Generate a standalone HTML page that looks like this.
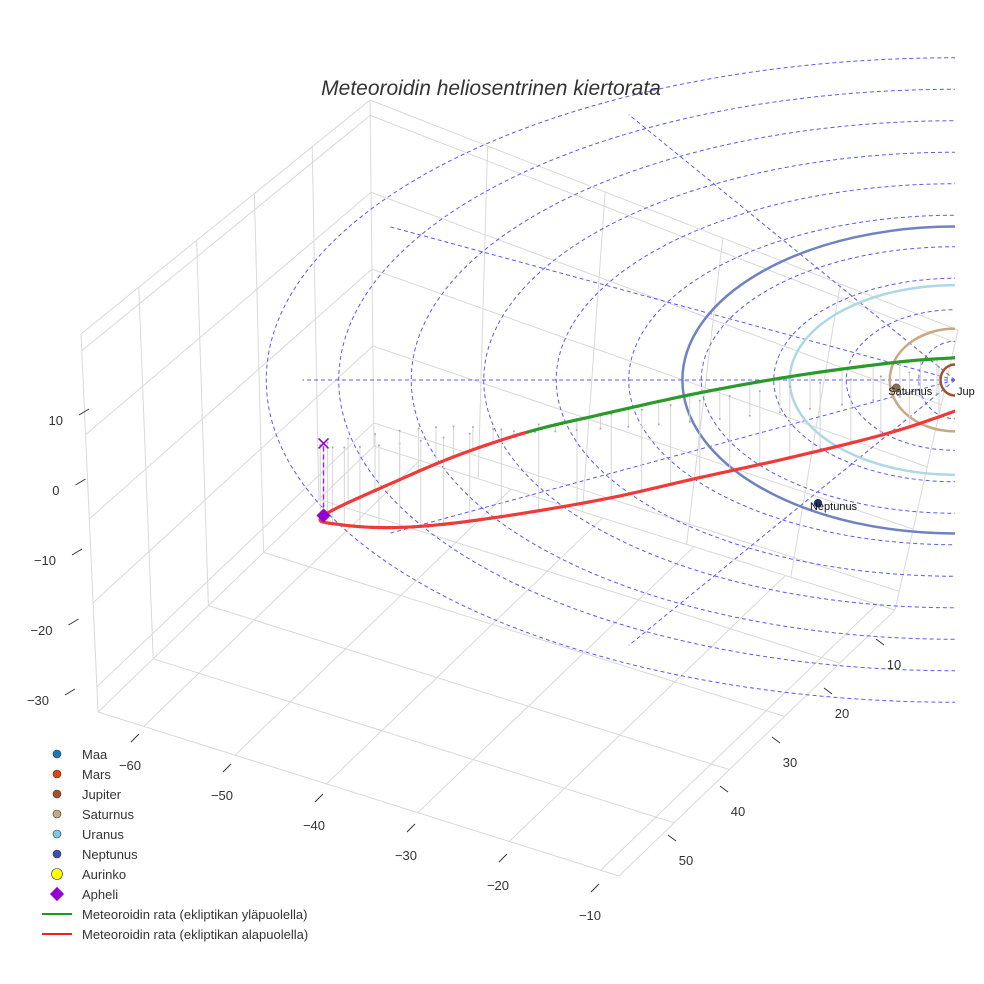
<!DOCTYPE html>
<html><head><meta charset="utf-8"><title>Meteoroidin heliosentrinen kiertorata</title>
<style>
body{margin:0;background:#fff;}
svg{display:block;font-family:"Liberation Sans",sans-serif;}
</style></head>
<body>
<svg id="chart" width="984" height="984" viewBox="0 0 984 984">
<defs><clipPath id="clipR"><rect x="0" y="0" width="955" height="984"/></clipPath></defs>
<g id="box" stroke="#d9d9d9" stroke-width="1" fill="none"></g>
<g id="grid" clip-path="url(#clipR)"></g>
<g id="orbits" clip-path="url(#clipR)"></g>
<g id="drops"></g>
<g id="traj" clip-path="url(#clipR)"></g>
<g id="marks"></g>
<g id="ticks" font-size="13" fill="#333"></g>
<text x="491" y="95" text-anchor="middle" font-size="21" font-style="italic" fill="#333">Meteoroidin heliosentrinen kiertorata</text>
<g id="legend" font-size="13" fill="#333"></g>
</svg>
<script>
// ---- data ----
const orbitX = [4.1,-7.6,-21.4,-35.2,-48.9,-65.6,-76.6,-84.8,-87.1,-76.6,-68.3,-58.9,-48.9,-35.2,-21.4,-7.6,0,4.1];
const orbitY = [-5.3,-1.5,1.3,5.0,8.7,12.7,15.4,16.4,15.4,12.3,11.3,12.6,11.8,9.9,7.3,4.1,3.1,2.6];
const orbitZ = [-6,-8,-10,-11,-12,-12.5,-12,-11,-10.3,-7,-4,0,2,4,5,5,5,5];
const planetNames = ["Jupiter","Saturnus","Uranus","Neptunus"];
const planetRadii = [2,9,22.8,37.6];
const planetColors = ["#a0522d","#c8a882","#add8e6","#6f82c2"];
const planetPosX = [null,-8.1,null,-18.9];
const planetPosY = [null,1.9,null,29.9];
const gridRadii = [5,15,25,35,45,55,65,75,85,95];
const radialAngles = [120,150,180,210,240];
const aphelion = [-87.1,15.4,-10.3];
const xTicks = [-60,-50,-40,-30,-20,-10];
const yTicks = [10,20,30,40,50];
const zTicks = [10,0,-10,-20,-30];

// ---- axis functions ----
const SX=7.25, SY=4.12, SZ=7;
const P = (x,y,z)=>[955+SX*x, 380+SY*y-SZ*z];
const ryOf = r=>r<=0?0:3.15*r+(r>=5?23:23*r/5);   // foreshortened ecliptic depth
const xTickPos = v=>[135+(v+60)*9.2, 738+(v+60)*3.0];
const yTickPos = v=>[880-(v-10)*5.2, 642+(v-10)*4.9];
const zTickPos = v=>[83-(10-v)*0.35, 412+(10-v)*7.0];
const NS="http://www.w3.org/2000/svg";
function mk(tag,attrs,parent){const e=document.createElementNS(NS,tag);for(const k in attrs)e.setAttribute(k,attrs[k]);parent.appendChild(e);return e;}

// box
const box=document.getElementById('box');
const lerp=(a,b,t)=>[a[0]+(b[0]-a[0])*t,a[1]+(b[1]-a[1])*t];
const FL=[98,712], FR=[619,876], BR=[895,610], BL=[374,446];
const TL=[81,334], TB=[370,100], TR=[958,330];
function L(a,b){mk('line',{x1:a[0],y1:a[1],x2:b[0],y2:b[1]},box);}
L(FL,FR);L(FR,BR);L(BR,BL);L(BL,FL);L(TL,FL);L(TL,TB);L(TB,BL);L(TB,TR);L(TR,BR);
for(let i=1;i<5;i++){const t=i/5;
  const a=lerp(FL,BL,t),b=lerp(FR,BR,t);L(a,b);
  const top=lerp(TL,TB,t);L(top,a);
  const c=lerp(BL,BR,t),d=lerp(TB,TR,t);L(c,d);
}
xTicks.forEach(v=>{const t=(v+65)/57;const a=lerp(FL,FR,t),b=lerp(BL,BR,t);L(a,b);});
zTicks.forEach(v=>{const t=(12-v)/45;const a=lerp(TL,FL,t),b=lerp(TB,BL,t),c=lerp(TR,BR,t);L(a,b);L(b,c);});

// grid
const grid=document.getElementById('grid');
gridRadii.forEach(r=>{const c=P(0,0,0);
 const e=mk('ellipse',{cx:c[0],cy:c[1],rx:SX*r,ry:ryOf(r),fill:'none',stroke:'#5b5bf0','stroke-width':1,'stroke-dasharray':'4,3'},grid);
 });
radialAngles.forEach(a=>{const t=a*Math.PI/180;const c=P(0,0,0);const R=90;const q=[c[0]+SX*R*Math.cos(t),c[1]+ryOf(R)*Math.sin(t)];
 const e=mk('line',{x1:c[0],y1:c[1],x2:q[0],y2:q[1],stroke:'#5b5bf0','stroke-width':1,'stroke-dasharray':'4,3'},grid);
 });

// planet orbits
const orb=document.getElementById('orbits');
planetRadii.forEach((r,i)=>{const c=P(0,0,0);
 const e=mk('ellipse',{cx:c[0],cy:c[1],rx:SX*r,ry:ryOf(r)+(r>30?12:0),fill:'none',stroke:planetColors[i],'stroke-width':2.5},orb);
 });

// trajectory (Catmull-Rom sampled)
const pts=orbitX.map((x,i)=>[x,orbitY[i],orbitZ[i]]);
function cr(p0,p1,p2,p3,t){return p1.map((_,k)=>0.5*((2*p1[k])+(-p0[k]+p2[k])*t+(2*p0[k]-5*p1[k]+4*p2[k]-p3[k])*t*t+(-p0[k]+3*p1[k]-3*p2[k]+p3[k])*t*t*t));}
const samp=[];
for(let i=0;i<pts.length-1;i++){const p0=pts[Math.max(0,i-1)],p1=pts[i],p2=pts[i+1],p3=pts[Math.min(pts.length-1,i+2)];
 for(let s=0;s<10;s++)samp.push(cr(p0,p1,p2,p3,s/10));}
samp.push(pts[pts.length-1]);
const drops=document.getElementById('drops');
samp.forEach((p,i)=>{if(i%3)return;const a=P(p[0],p[1],p[2]),b=P(p[0],p[1],0);if(a[0]>950)return;
 const e=mk('line',{x1:a[0],y1:a[1],x2:b[0],y2:b[1],stroke:'#d6d6d6','stroke-width':1},drops);
 
 const d=mk('circle',{cx:b[0],cy:b[1],r:1,fill:'#aaa'},drops);
 });
const traj=document.getElementById('traj');
for(let i=0;i<samp.length-1;i++){const a=P(...samp[i]),b=P(...samp[i+1]);
 const col=(samp[i][2]+samp[i+1][2])/2>=0?'#2a9a2a':'#f03a3a';
 const e=mk('line',{x1:a[0],y1:a[1],x2:b[0],y2:b[1],stroke:col,'stroke-width':3.2,'stroke-linecap':'round'},traj);
 }

// markers
const marks=document.getElementById('marks');
const ap=P(...aphelion),ap0=P(aphelion[0],aphelion[1],0);
let e=mk('line',{x1:ap[0],y1:ap[1],x2:ap0[0],y2:ap0[1],stroke:'#9932cc','stroke-width':1.5,'stroke-dasharray':'5,3'},marks);

e=mk('rect',{x:ap[0]-5,y:ap[1]-5,width:10,height:10,fill:'#9400d3',transform:`rotate(45 ${ap[0]} ${ap[1]})`},marks);

e=mk('path',{d:`M${ap0[0]-5},${ap0[1]-5}L${ap0[0]+5},${ap0[1]+5}M${ap0[0]+5},${ap0[1]-5}L${ap0[0]-5},${ap0[1]+5}`,stroke:'#9400d3','stroke-width':1.5},marks);

planetNames.forEach((n,i)=>{if(planetPosX[i]===null)return;const p=P(planetPosX[i],planetPosY[i],0);
 const c=mk('circle',{cx:p[0],cy:p[1],r:4,fill:n==='Neptunus'?'#1f3070':'#8a7050',stroke:'#333','stroke-width':0.5},marks);
 
 const t=mk('text',{x:p[0]-8,y:p[1]+7,'font-size':11,fill:'#111'},marks);t.textContent=n;
 });
const jl=mk('text',{x:957,y:395,'font-size':11,fill:'#111'},marks);jl.textContent='Jup';


// ticks
const tk=document.getElementById('ticks');
xTicks.forEach(v=>{const p=xTickPos(v);mk('line',{x1:p[0]-4,y1:p[1]+4,x2:p[0]+4,y2:p[1]-4,stroke:'#333'},tk);
 const t=mk('text',{x:p[0]-5,y:p[1]+32,'text-anchor':'middle'},tk);t.textContent=String(v).replace('-','\u2212');
 });
yTicks.forEach(v=>{const p=yTickPos(v);mk('line',{x1:p[0]-4,y1:p[1]-3,x2:p[0]+4,y2:p[1]+3,stroke:'#333'},tk);
 const t=mk('text',{x:p[0]+14,y:p[1]+27,'text-anchor':'middle'},tk);t.textContent=String(v);
 });
zTicks.forEach(v=>{const p=zTickPos(v);mk('line',{x1:p[0]-4,y1:p[1]+3,x2:p[0]+6,y2:p[1]-3,stroke:'#333'},tk);
 const t=mk('text',{x:p[0]-20,y:p[1]+13,'text-anchor':'end'},tk);t.textContent=String(v).replace('-','\u2212');
 });

// legend
const lg=document.getElementById('legend');
const legNames=["Maa","Mars","Jupiter","Saturnus","Uranus","Neptunus","Aurinko","Apheli","Meteoroidin rata (ekliptikan yläpuolella)","Meteoroidin rata (ekliptikan alapuolella)"];
const legColors=["#1f77b4","#e0440e","#a0522d","#c8a882","#7ec8e3","#3a4fb0","#ffff00","#9400d3","#1a9a1a","#ee2222"];
legNames.forEach((n,i)=>{const y=754+i*20;let m;
 if(i<7)m=mk('circle',{cx:57,cy:y,r:i===6?5.5:4,fill:legColors[i],stroke:'#333','stroke-width':0.6},lg);
 else if(i===7)m=mk('rect',{x:52,y:y-5,width:10,height:10,fill:legColors[i],transform:`rotate(45 57 ${y})`},lg);
 else m=mk('line',{x1:42,y1:y,x2:72,y2:y,stroke:legColors[i],'stroke-width':2},lg);
 
 const t=mk('text',{x:82,y:y+5},lg);t.textContent=n;
 });
</script>
</body></html>
